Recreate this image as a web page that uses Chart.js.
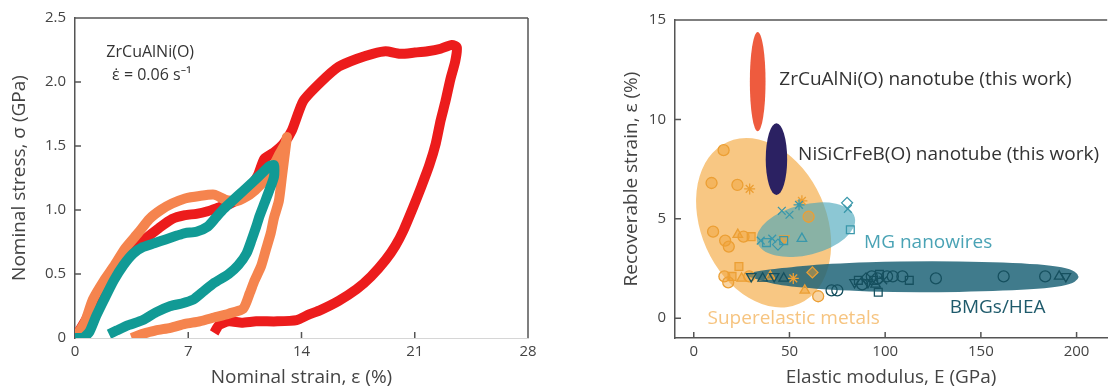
<!DOCTYPE html>
<html>
<head>
<meta charset="utf-8">
<script src="https://cdn.jsdelivr.net/npm/chart.js@4.4.0/dist/chart.umd.min.js"></script>
<style>
  html, body { margin: 0; padding: 0; background: #fff; }
  #wrap { position: relative; width: 1114px; height: 392px; overflow: hidden; }
  #left { position: absolute; left: 0; top: 0; width: 545px; height: 392px; }
  #right { position: absolute; left: 560px; top: 0; width: 554px; height: 392px; }
</style>
</head>
<body>
<div id="wrap">
  <div id="left"><canvas id="stressChart"></canvas></div>
  <div id="right"><canvas id="modulusChart"></canvas></div>
</div>
<script>
// ---- left panel: stress-strain loops ----
var strainTicks = [0, 7, 14, 21, 28];
var stressTicks = [0, 0.5, 1.0, 1.5, 2.0, 2.5];

var redStrain = [0, 0.7, 1.3, 2.0, 2.7, 3.5, 4.3, 5.2, 6.0, 6.8, 7.5, 8.2, 8.9, 9.6, 10.3, 10.8, 11.3, 11.7, 12.3, 12.9, 13.4, 14.1, 15.2, 16.3, 17.4, 18.4, 19.2, 20.1, 21.0, 21.8, 22.6, 23.3, 23.6,
                 23.5, 23.2, 22.9, 22.6, 22.3, 21.9, 21.4, 20.9, 20.3, 19.8, 19.2, 18.3, 17.4, 16.3, 15.2, 14.4, 13.7, 12.5, 11.2, 10.3, 9.5, 8.9, 8.6];
var redStress = [0, 0.15, 0.3, 0.44, 0.56, 0.68, 0.77, 0.86, 0.93, 0.96, 0.97, 0.99, 1.02, 1.05, 1.1, 1.17, 1.27, 1.4, 1.45, 1.52, 1.62, 1.85, 2.0, 2.12, 2.18, 2.22, 2.24, 2.22, 2.23, 2.24, 2.26, 2.29, 2.27,
                 2.16, 2.02, 1.85, 1.7, 1.52, 1.35, 1.18, 1.02, 0.84, 0.72, 0.61, 0.48, 0.38, 0.29, 0.22, 0.18, 0.14, 0.13, 0.13, 0.12, 0.13, 0.1, 0.04];

var orangeStrain = [0, 0.6, 1.1, 1.8, 2.4, 3.1, 3.9, 4.6, 5.3, 6.0, 6.8, 7.7, 8.6, 9.3, 10.0, 10.8, 11.5, 12.1, 12.6, 13.0, 13.1,
                    13.0, 12.8, 12.6, 12.3, 12.1, 11.8, 11.5, 11.1, 10.8, 10.4, 9.5, 8.6, 7.7, 6.8, 5.9, 5.0, 4.4, 3.9, 3.5];
var orangeStress = [0, 0.12, 0.3, 0.45, 0.56, 0.7, 0.82, 0.93, 1.0, 1.05, 1.09, 1.11, 1.12, 1.08, 1.07, 1.12, 1.2, 1.3, 1.43, 1.52, 1.57,
                    1.47, 1.27, 1.07, 0.94, 0.82, 0.69, 0.56, 0.45, 0.35, 0.23, 0.19, 0.16, 0.13, 0.11, 0.08, 0.06, 0.04, 0.02, 0];

var tealStrain = [0, 0.5, 0.9, 1.3, 1.8, 2.4, 3.0, 3.6, 4.2, 4.9, 5.6, 6.3, 6.8, 7.5, 8.2, 8.7, 9.2, 9.8, 10.4, 11.0, 11.5, 12.0, 12.3,
                  12.3, 12.0, 11.7, 11.4, 11.2, 10.9, 10.6, 10.1, 9.5, 8.6, 7.9, 7.3, 6.6, 5.9, 5.0, 4.2, 3.3, 2.6, 2.1];
var tealStress = [0, 0.0, 0.05, 0.17, 0.3, 0.45, 0.57, 0.66, 0.71, 0.74, 0.77, 0.8, 0.82, 0.83, 0.87, 0.94, 1.01, 1.08, 1.15, 1.22, 1.28, 1.34, 1.35,
                  1.26, 1.15, 1.05, 0.95, 0.87, 0.76, 0.66, 0.57, 0.5, 0.43, 0.36, 0.3, 0.27, 0.25, 0.2, 0.14, 0.1, 0.06, 0.03];

// ---- right panel: recoverable strain vs modulus ----
var modulusTicks = [0, 50, 100, 150, 200];
var recoverTicks = [0, 5, 10, 15];

// regions: centre and half-widths in data units, tilt in degrees
var regionNames = ['Superelastic metals', 'MG nanowires', 'ZrCuAlNi(O) nanotube', 'NiSiCrFeB(O) nanotube'];
var regionCX = [36.5, 58.6, 33.4, 43.2];
var regionCY = [4.8, 4.45, 11.9, 8.0];
var regionRX = [32.7, 26.3, 4.1, 5.6];
var regionRY = [4.45, 1.27, 2.5, 1.8];
var regionTilt = [-24, -14, 0, 0];

// BMGs/HEA band outline
var bmgBandX = [25, 35, 44, 70, 113, 164, 195, 203, 195, 164, 113, 70, 44, 35];
var bmgBandY = [2.2, 2.4, 2.5, 2.75, 2.88, 2.83, 2.58, 2.08, 1.58, 1.37, 1.27, 1.41, 1.66, 1.9];

var superX = [15.6, 9.3, 22.8, 29.2, 10.1, 16.4, 18.3, 23, 26, 30, 23.6, 16, 20, 25, 29, 18, 56.5, 60, 47.3, 58, 65, 40, 52, 62];
var superY = [8.45, 6.8, 6.7, 6.5, 4.35, 3.9, 3.6, 4.2, 4.1, 4.1, 2.6, 2.1, 2.1, 2.0, 2.1, 1.8, 5.9, 5.1, 4.0, 1.4, 1.1, 2.1, 2.0, 2.3];
var superShape = ['circle', 'circle', 'circle', 'star', 'circle', 'circle', 'circle', 'triangle', 'circle', 'rect', 'rect', 'circle', 'rect', 'triangle', 'circle', 'circle', 'star', 'circle', 'triangle', 'triangle', 'circle', 'triangle', 'star', 'rectRot'];

var mgX = [80.1, 80.5, 81.8, 46, 50, 55, 35, 38, 41, 44, 47, 56.5];
var mgY = [5.8, 5.5, 4.45, 5.4, 5.2, 5.7, 3.9, 3.8, 4.0, 3.7, 3.9, 4.0];
var mgShape = ['rectRot', 'crossRot', 'rect', 'crossRot', 'crossRot', 'star', 'crossRot', 'rect', 'crossRot', 'rectRot', 'rect', 'triangle'];

var bmgX = [30, 36, 42, 47, 72, 75, 84, 86, 88, 90, 91, 93, 94, 95, 96, 97, 99, 101, 96.4, 104, 109, 112.6, 126.5, 161.9, 183.6, 190.9, 194.4];
var bmgY = [2.1, 2.0, 2.1, 2.0, 1.4, 1.4, 1.8, 1.9, 1.7, 2.0, 1.8, 2.1, 1.9, 1.7, 2.0, 2.2, 1.9, 2.1, 1.3, 2.1, 2.1, 1.9, 2.0, 2.1, 2.1, 2.1, 2.1];
var bmgShape = ['triangle', 'triangle', 'triangle', 'triangle', 'circle', 'circle', 'triangle', 'rect', 'circle', 'rectRot', 'triangle', 'circle', 'rect', 'triangle', 'circle', 'rect', 'crossRot', 'circle', 'rect', 'circle', 'circle', 'rect', 'circle', 'circle', 'circle', 'triangle', 'triangle'];

var fontFamily = '"Open Sans", "Noto Sans", sans-serif';
var tickFont = { family: fontFamily, size: 15 };
var titleFont = { family: fontFamily, size: 19 };
var textColor = '#444';
var axisColor = '#555';

function pairs(xs, ys) {
    var out = [];
    for (var i = 0; i < xs.length; i++) {
        out.push({ x: xs[i], y: ys[i] });
    }
    return out;
}

function fixedTicks(values) {
    return function (scale) {
        scale.ticks = values.map(function (v) { return { value: v }; });
    };
}

// frame lines and inward tick marks
function framePlugin(opts) {
    return {
        id: 'frame',
        afterDraw: function (chart) {
            var ctx = chart.ctx, a = chart.chartArea;
            var sx = chart.scales.x, sy = chart.scales.y;
            ctx.save();
            ctx.strokeStyle = axisColor;
            ctx.lineWidth = 1.5;
            ctx.beginPath();
            ctx.moveTo(a.left, a.top);
            ctx.lineTo(a.right, a.top);
            if (opts.right) {
                ctx.moveTo(a.right, a.top);
                ctx.lineTo(a.right, a.bottom);
            }
            sx.ticks.forEach(function (t) {
                var px = sx.getPixelForValue(t.value);
                if (px > a.left + 2 && px < a.right - 2) {
                    ctx.moveTo(px, a.bottom);
                    ctx.lineTo(px, a.bottom - 6);
                }
            });
            sy.ticks.forEach(function (t) {
                var py = sy.getPixelForValue(t.value);
                if (py > a.top + 2 && py < a.bottom - 2) {
                    ctx.moveTo(a.left, py);
                    ctx.lineTo(a.left + 6, py);
                }
            });
            ctx.stroke();
            ctx.restore();
        }
    };
}

// text notes placed at data coordinates
function notesPlugin(notes) {
    return {
        id: 'notes',
        afterDraw: function (chart) {
            var ctx = chart.ctx, sx = chart.scales.x, sy = chart.scales.y;
            ctx.save();
            ctx.textBaseline = 'middle';
            notes.forEach(function (n) {
                ctx.font = n.size + 'px ' + fontFamily;
                ctx.fillStyle = n.color;
                ctx.textAlign = n.align || 'left';
                ctx.fillText(n.text, sx.getPixelForValue(n.x), sy.getPixelForValue(n.y));
            });
            ctx.restore();
        }
    };
}

new Chart(document.getElementById('stressChart'), {
    type: 'scatter',
    data: {
        datasets: [
            { label: 'red', data: pairs(redStrain, redStress), showLine: true, borderColor: '#ec1c1c', borderWidth: 10, pointRadius: 0, tension: 0.2, order: 3 },
            { label: 'orange', data: pairs(orangeStrain, orangeStress), showLine: true, borderColor: '#f5844e', borderWidth: 10, pointRadius: 0, tension: 0.2, order: 2 },
            { label: 'teal', data: pairs(tealStrain, tealStress), showLine: true, borderColor: '#119a95', borderWidth: 10, pointRadius: 0, tension: 0.2, order: 1 }
        ]
    },
    options: {
        responsive: true,
        maintainAspectRatio: false,
        animation: false,
        layout: { padding: { top: 18, right: 17, left: 0, bottom: 0 } },
        plugins: { legend: { display: false }, tooltip: { enabled: false } },
        scales: {
            x: {
                type: 'linear', min: 0, max: 28,
                afterBuildTicks: fixedTicks(strainTicks),
                afterFit: function (s) { s.height = 54; },
                grid: { display: false, drawTicks: false },
                border: { color: '#d6d6d6', width: 1 },
                ticks: { padding: 5, font: tickFont, color: textColor },
                title: { display: true, text: 'Nominal strain, ε (%)', font: titleFont, color: textColor, padding: { top: 0, bottom: 3 } }
            },
            y: {
                type: 'linear', min: 0, max: 2.5,
                afterBuildTicks: fixedTicks(stressTicks),
                afterFit: function (s) { s.width = 75; },
                grid: { display: false, drawTicks: false },
                border: { color: axisColor, width: 1.5 },
                ticks: { padding: 9, font: tickFont, color: textColor,
                         callback: function (v) { return v === 0 ? '0' : v.toFixed(1); } },
                title: { display: true, text: 'Nominal stress, σ (GPa)', font: titleFont, color: textColor, padding: { top: 8, bottom: 0 } }
            }
        }
    },
    plugins: [framePlugin({ right: true }), notesPlugin([
        { text: 'ZrCuAlNi(O)', x: 4.65, y: 2.23, size: 16, color: '#333', align: 'center' },
        { text: 'ε̇ = 0.06 s⁻¹', x: 4.75, y: 2.05, size: 16, color: '#333', align: 'center' }
    ])]
});

var regionFill = ['rgba(243,165,55,0.62)', 'rgba(70,165,185,0.62)', '#ee5b3e', '#2b2162'];

var regionsPlugin = {
    id: 'regions',
    beforeDatasetsDraw: function (chart) { drawRegions(chart, [0, 1], true); },
    afterDatasetsDraw: function (chart) { drawRegions(chart, [2, 3], false); }
};

function drawRegions(chart, which, withBand) {
    var ctx = chart.ctx, sx = chart.scales.x, sy = chart.scales.y, a = chart.chartArea;
    ctx.save();
    ctx.beginPath();
    ctx.rect(a.left, a.top, a.right - a.left, a.bottom - a.top);
    ctx.clip();
    which.forEach(function (i) {
        var px = sx.getPixelForValue(regionCX[i]);
        var py = sy.getPixelForValue(regionCY[i]);
        var rx = Math.abs(sx.getPixelForValue(regionCX[i] + regionRX[i]) - px);
        var ry = Math.abs(sy.getPixelForValue(regionCY[i] + regionRY[i]) - py);
        ctx.beginPath();
        ctx.ellipse(px, py, rx, ry, regionTilt[i] * Math.PI / 180, 0, Math.PI * 2);
        ctx.fillStyle = regionFill[i];
        ctx.fill();
    });
    if (withBand) {
        // smooth closed outline through the band points
        var pts = bmgBandX.map(function (v, k) {
            return [sx.getPixelForValue(v), sy.getPixelForValue(bmgBandY[k])];
        });
        var n = pts.length;
        ctx.beginPath();
        var m0 = [(pts[n - 1][0] + pts[0][0]) / 2, (pts[n - 1][1] + pts[0][1]) / 2];
        ctx.moveTo(m0[0], m0[1]);
        for (var k = 0; k < n; k++) {
            var p = pts[k], q = pts[(k + 1) % n];
            ctx.quadraticCurveTo(p[0], p[1], (p[0] + q[0]) / 2, (p[1] + q[1]) / 2);
        }
        ctx.closePath();
        ctx.fillStyle = 'rgba(30,100,120,0.85)';
        ctx.fill();
    }
    ctx.restore();
}

function rotations(shapes) {
    return shapes.map(function (s, i) { return (s === 'triangle' && i % 2 === 0) ? 180 : 0; });
}

new Chart(document.getElementById('modulusChart'), {
    type: 'scatter',
    data: {
        datasets: [
            { label: 'BMGs/HEA', data: pairs(bmgX, bmgY), pointStyle: bmgShape, pointRotation: rotations(bmgShape), pointRadius: 5.5,
              borderColor: '#16505f', backgroundColor: 'rgba(0,0,0,0)', borderWidth: 1.3 },
            { label: 'MG nanowires', data: pairs(mgX, mgY), pointStyle: mgShape, pointRotation: rotations(mgShape), pointRadius: 5.5,
              borderColor: '#3a98ab', backgroundColor: 'rgba(0,0,0,0)', borderWidth: 1.3 },
            { label: 'Superelastic metals', data: pairs(superX, superY), pointStyle: superShape, pointRotation: rotations(superShape), pointRadius: 5.5,
              borderColor: '#ec9f34', backgroundColor: 'rgba(240,160,50,0.45)', borderWidth: 1.3 }
        ]
    },
    options: {
        responsive: true,
        maintainAspectRatio: false,
        animation: false,
        layout: { padding: { top: 20, right: 0, left: 0, bottom: 0 } },
        plugins: { legend: { display: false }, tooltip: { enabled: false } },
        scales: {
            x: {
                type: 'linear', min: -9.8, max: 216,
                afterBuildTicks: fixedTicks(modulusTicks),
                afterFit: function (s) { s.height = 54; },
                grid: { display: false, drawTicks: false },
                border: { color: axisColor, width: 1.5 },
                ticks: { padding: 5, font: tickFont, color: textColor },
                title: { display: true, text: 'Elastic modulus, E (GPa)', font: titleFont, color: textColor, padding: { top: 0, bottom: 3 } }
            },
            y: {
                type: 'linear', min: -1, max: 15,
                afterBuildTicks: fixedTicks(recoverTicks),
                afterFit: function (s) { s.width = 115; },
                grid: { display: false, drawTicks: false },
                border: { color: axisColor, width: 1.5 },
                ticks: { padding: 9, font: tickFont, color: textColor },
                title: { display: true, text: 'Recoverable strain, ε (%)', font: titleFont, color: textColor, padding: { top: 60, bottom: 0 } }
            }
        }
    },
    plugins: [regionsPlugin, framePlugin({ right: false }), notesPlugin([
        { text: 'ZrCuAlNi(O) nanotube (this work)', x: 44.7, y: 12.0, size: 19, color: '#333' },
        { text: 'NiSiCrFeB(O) nanotube (this work)', x: 54.5, y: 8.25, size: 19, color: '#333' },
        { text: 'MG nanowires', x: 89, y: 3.8, size: 19, color: '#4aa3b5' },
        { text: 'BMGs/HEA', x: 133.7, y: 0.55, size: 19, color: '#1e5a6b' },
        { text: 'Superelastic metals', x: 7.2, y: 0.0, size: 19, color: '#f6c480' }
    ])]
});
</script>
</body>
</html>
